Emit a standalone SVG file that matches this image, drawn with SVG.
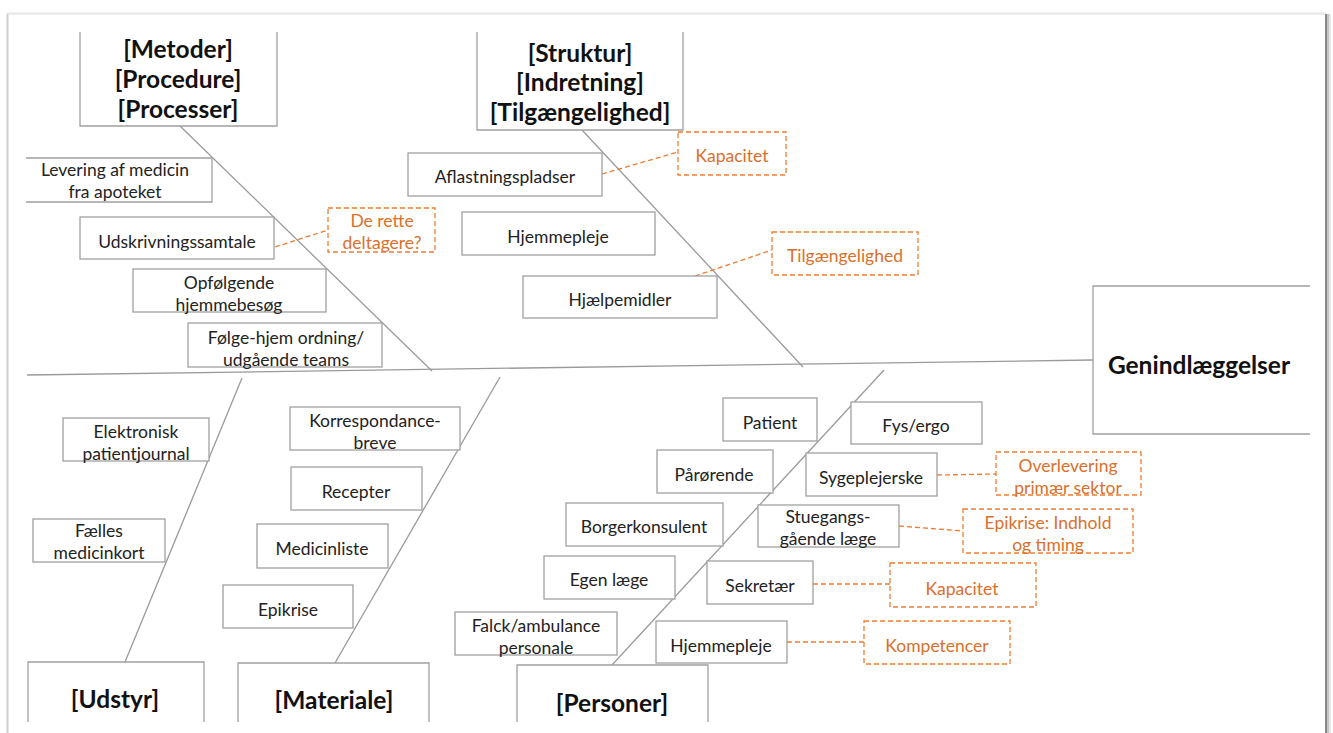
<svg xmlns="http://www.w3.org/2000/svg" width="1333" height="733" viewBox="0 0 1333 733">
<style>
text{font-family:Lato,"Liberation Sans",sans-serif;font-size:17.5px;fill:#222;text-anchor:middle;dominant-baseline:central}
.t{font-weight:bold;font-size:24.5px;fill:#111}
.o{fill:#D9702C}
.b{fill:#fff;stroke:#a0a0a0;stroke-width:1.3}
.ob{fill:#fff;stroke:#ED7D31;stroke-width:1.3;stroke-dasharray:5 3}
.ln{stroke:#9a9a9a;stroke-width:1.3;fill:none}
.dl{stroke:#ED7D31;stroke-width:1.3;fill:none;stroke-dasharray:5 3}
</style>
<rect width="1333" height="733" fill="#fff"/>
<g id="frame">
<line x1="7.5" y1="13" x2="7.5" y2="733" stroke="#cfcfcf" stroke-width="2"/>
<line x1="7" y1="13.5" x2="1326" y2="13.5" stroke="#e6e6e6" stroke-width="2"/>
<rect x="1325" y="14" width="2" height="719" fill="#8a8a8a"/>
<rect x="1327" y="14" width="2" height="719" fill="#c4c4c4"/>
<rect x="1329" y="14" width="2" height="719" fill="#e8e8e8"/>
</g>
<g id="connectors">
<line class="ln" x1="27" y1="375" x2="1093" y2="360"/>
<line class="ln" x1="180" y1="126" x2="432" y2="371"/>
<line class="ln" x1="582" y1="130" x2="803" y2="367"/>
<line class="ln" x1="242" y1="378" x2="125" y2="662"/>
<line class="ln" x1="500" y1="377" x2="335" y2="663"/>
<line class="ln" x1="884" y1="370" x2="612" y2="665"/>
<line class="dl" x1="275" y1="247" x2="328" y2="230"/>
<line class="dl" x1="602" y1="174" x2="678" y2="152"/>
<line class="dl" x1="695" y1="276" x2="772" y2="250"/>
<line class="dl" x1="937" y1="475" x2="996" y2="474"/>
<line class="dl" x1="899" y1="526" x2="963" y2="531"/>
<line class="dl" x1="813" y1="584" x2="890" y2="584"/>
<line class="dl" x1="787" y1="642" x2="864" y2="642"/>
</g>
<g id="metoder">
<path class="b" d="M80,32 V126 H277 V32"/>
<text class="t" x="178" y="48">[Metoder]</text>
<text class="t" x="178" y="78">[Procedure]</text>
<text class="t" x="178" y="108">[Processer]</text>
</g>
<g id="struktur">
<path class="b" d="M477,32 V130 H683 V32"/>
<text class="t" x="580" y="52">[Struktur]</text>
<text class="t" x="580" y="81">[Indretning]</text>
<text class="t" x="580" y="111">[Tilgængelighed]</text>
</g>
<g id="genindlaeggelser">
<path class="b" d="M1310,286 H1093 V434 H1310"/>
<text class="t" x="1199" y="364">Genindlæggelser</text>
</g>
<g id="udstyr">
<path class="b" d="M28,722 V662 H204 V722"/>
<text class="t" x="115" y="698">[Udstyr]</text>
</g>
<g id="materiale">
<path class="b" d="M238,722 V663 H429 V722"/>
<text class="t" x="334" y="699">[Materiale]</text>
</g>
<g id="personer">
<path class="b" d="M517,722 V665 H708 V722"/>
<text class="t" x="612" y="702">[Personer]</text>
</g>
<g id="levering">
<path class="b" d="M26,158 H212 V202 H26"/>
<text x="115" y="169">Levering af medicin</text>
<text x="115" y="191">fra apoteket</text>
</g>
<g id="udskrivningssamtale">
<rect class="b" x="80" y="217" width="194" height="42"/>
<text x="177" y="241">Udskrivningssamtale</text>
</g>
<g id="de-rette-deltagere">
<rect class="ob" x="328" y="208" width="107" height="44"/>
<text class="o" x="382" y="220">De rette</text>
<text class="o" x="382" y="242">deltagere?</text>
</g>
<g id="opfoelgende">
<rect class="b" x="133" y="269" width="193" height="43"/>
<text x="229" y="282">Opfølgende</text>
<text x="229" y="304">hjemmebesøg</text>
</g>
<g id="foelge-hjem">
<rect class="b" x="188" y="323" width="194" height="44"/>
<text x="286" y="337">Følge-hjem ordning/</text>
<text x="286" y="359">udgående teams</text>
</g>
<g id="aflastningspladser">
<rect class="b" x="408" y="153" width="194" height="43"/>
<text x="505" y="176">Aflastningspladser</text>
</g>
<g id="kapacitet-1">
<rect class="ob" x="678" y="132" width="108" height="43"/>
<text class="o" x="732" y="155">Kapacitet</text>
</g>
<g id="hjemmepleje-1">
<rect class="b" x="462" y="212" width="193" height="43"/>
<text x="558" y="236">Hjemmepleje</text>
</g>
<g id="hjaelpemidler">
<rect class="b" x="523" y="276" width="194" height="42"/>
<text x="620" y="299">Hjælpemidler</text>
</g>
<g id="tilgaengelighed">
<rect class="ob" x="772" y="232" width="146" height="43"/>
<text class="o" x="845" y="255">Tilgængelighed</text>
</g>
<g id="elektronisk-patientjournal">
<rect class="b" x="63" y="418" width="146" height="43"/>
<text x="136" y="431">Elektronisk</text>
<text x="136" y="453">patientjournal</text>
</g>
<g id="faelles-medicinkort">
<rect class="b" x="33" y="519" width="132" height="43"/>
<text x="99" y="530">Fælles</text>
<text x="99" y="552">medicinkort</text>
</g>
<g id="korrespondancebreve">
<rect class="b" x="290" y="407" width="170" height="43"/>
<text x="375" y="420">Korrespondance-</text>
<text x="375" y="442">breve</text>
</g>
<g id="recepter">
<rect class="b" x="291" y="467" width="131" height="43"/>
<text x="356" y="491">Recepter</text>
</g>
<g id="medicinliste">
<rect class="b" x="257" y="524" width="131" height="44"/>
<text x="322" y="548">Medicinliste</text>
</g>
<g id="epikrise">
<rect class="b" x="223" y="585" width="130" height="43"/>
<text x="288" y="609">Epikrise</text>
</g>
<g id="patient">
<rect class="b" x="723" y="398" width="94" height="43"/>
<text x="770" y="422">Patient</text>
</g>
<g id="paaroerende">
<rect class="b" x="657" y="450" width="116" height="43"/>
<text x="714" y="474">Pårørende</text>
</g>
<g id="borgerkonsulent">
<rect class="b" x="566" y="503" width="157" height="43"/>
<text x="644" y="526">Borgerkonsulent</text>
</g>
<g id="egen-laege">
<rect class="b" x="544" y="556" width="131" height="43"/>
<text x="609" y="579">Egen læge</text>
</g>
<g id="falck">
<rect class="b" x="455" y="612" width="162" height="43"/>
<text x="536" y="625">Falck/ambulance</text>
<text x="536" y="647">personale</text>
</g>
<g id="fys-ergo">
<rect class="b" x="851" y="402" width="131" height="42"/>
<text x="916" y="425">Fys/ergo</text>
</g>
<g id="sygeplejerske">
<rect class="b" x="806" y="453" width="131" height="43"/>
<text x="871" y="477">Sygeplejerske</text>
</g>
<g id="stuegangsgaaende-laege">
<rect class="b" x="758" y="505" width="141" height="42"/>
<text x="828" y="516">Stuegangs-</text>
<text x="828" y="538">gående læge</text>
</g>
<g id="sekretaer">
<rect class="b" x="707" y="561" width="106" height="43"/>
<text x="760" y="585">Sekretær</text>
</g>
<g id="hjemmepleje-2">
<rect class="b" x="656" y="621" width="131" height="42"/>
<text x="721" y="645">Hjemmepleje</text>
</g>
<g id="overlevering">
<rect class="ob" x="996" y="452" width="145" height="43"/>
<text class="o" x="1068" y="465">Overlevering</text>
<text class="o" x="1068" y="487">primær sektor</text>
</g>
<g id="epikrise-indhold">
<rect class="ob" x="963" y="509" width="170" height="44"/>
<text class="o" x="1048" y="522">Epikrise: Indhold</text>
<text class="o" x="1048" y="544">og timing</text>
</g>
<g id="kapacitet-2">
<rect class="ob" x="890" y="563" width="146" height="44"/>
<text class="o" x="962" y="588">Kapacitet</text>
</g>
<g id="kompetencer">
<rect class="ob" x="864" y="621" width="146" height="43"/>
<text class="o" x="937" y="645">Kompetencer</text>
</g>
</svg>
